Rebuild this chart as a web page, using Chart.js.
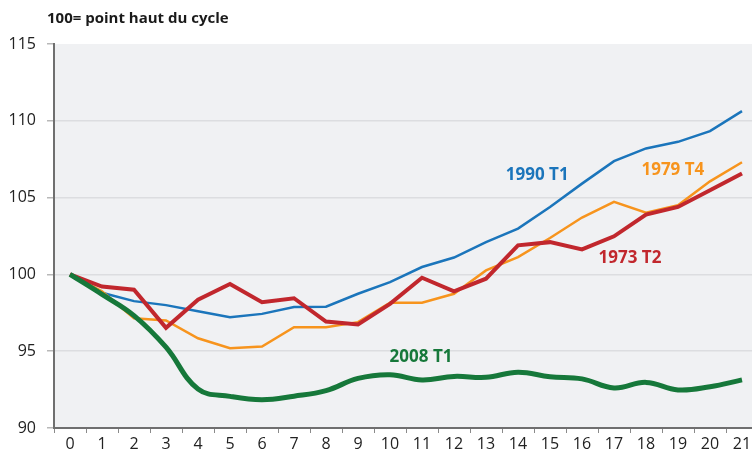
<!DOCTYPE html>
<html>
<head>
<meta charset="utf-8">
<script src="https://cdn.jsdelivr.net/npm/chart.js@4/dist/chart.umd.min.js"></script>
<style>
html,body{margin:0;padding:0;background:#fff;overflow:hidden;}
#wrap{width:758px;height:456px;}
</style>
</head>
<body>
<div id="wrap"><canvas id="c" width="758" height="456"></canvas></div>
<script>
const quarters = ['0','1','2','3','4','5','6','7','8','9','10','11','12','13','14','15','16','17','18','19','20','21'];
const s1990T1 = [100, 98.8, 98.26, 98.0, 97.6, 97.21, 97.43, 97.87, 97.9, 98.74, 99.5, 100.48, 101.1, 102.1, 102.98, 104.39, 105.91, 107.37, 108.2, 108.63, 109.33, 110.63];
const s1979T4 = [100, 98.9, 97.15, 97.0, 95.84, 95.19, 95.3, 96.56, 96.56, 96.89, 98.15, 98.15, 98.74, 100.26, 101.13, 102.37, 103.7, 104.72, 104.02, 104.5, 106.06, 107.3];
const s1973T2 = [100, 99.21, 99.0, 96.52, 98.35, 99.37, 98.19, 98.45, 96.93, 96.74, 98.08, 99.78, 98.89, 99.72, 101.89, 102.1, 101.63, 102.48, 103.9, 104.39, 105.48, 106.57];
const s2008T1 = [100, 98.7, 97.32, 95.26, 92.54, 92.06, 91.84, 92.07, 92.43, 93.23, 93.47, 93.13, 93.36, 93.3, 93.63, 93.34, 93.2, 92.61, 92.97, 92.48, 92.69, 93.13];
const yTicks = [90, 95, 100, 105, 110, 115];
const titleText = '100= point haut du cycle';

const seriesLabels = [
  {text:'2008 T1', x:10.97, y:94.6, color:'#16783a'},
  {text:'1973 T2', x:17.5, y:101.05, color:'#c1272d'},
  {text:'1979 T4', x:18.84, y:106.8, color:'#f7941d'},
  {text:'1990 T1', x:14.6, y:106.45, color:'#1b75bb'}
];

const FONT = "'Open Sans', 'DejaVu Sans', sans-serif";

const bgPlugin = {
  id: 'bg',
  beforeDraw(chart) {
    const {ctx, chartArea: a} = chart;
    ctx.save();
    ctx.fillStyle = '#f0f1f3';
    ctx.fillRect(a.left, a.top, a.right - a.left, a.bottom - a.top);
    ctx.restore();
  },
  afterDraw(chart) {
    const {ctx} = chart;
    ctx.save();
    ctx.font = "bold 15px " + FONT;
    ctx.fillStyle = '#1a1a1a';
    ctx.textBaseline = 'alphabetic';
    ctx.textAlign = 'left';
    ctx.fillText(titleText, 47, 23);
    const xs = chart.scales.x, ys = chart.scales.y;
    ctx.font = "bold 17px " + FONT;
    ctx.textAlign = 'center';
    ctx.textBaseline = 'middle';
    seriesLabels.forEach(l => {
      ctx.fillStyle = l.color;
      ctx.fillText(l.text, xs.getPixelForValue(l.x), ys.getPixelForValue(l.y));
    });
    ctx.restore();
  }
};

new Chart(document.getElementById('c'), {
  type: 'line',
  data: {
    labels: quarters,
    datasets: [
      {label:'2008 T1', data:s2008T1, borderColor:'#16783a', borderWidth:5, tension:0.4, pointRadius:0},
      {label:'1973 T2', data:s1973T2, borderColor:'#c1272d', borderWidth:4, tension:0, pointRadius:0},
      {label:'1979 T4', data:s1979T4, borderColor:'#f7941d', borderWidth:2.5, tension:0, pointRadius:0},
      {label:'1990 T1', data:s1990T1, borderColor:'#1b75bb', borderWidth:2.5, tension:0, pointRadius:0}
    ]
  },
  options: {
    responsive: false,
    devicePixelRatio: 1,
    animation: false,
    layout: {padding: {top: 44, right: 0, left: 0, bottom: 0}},
    plugins: {legend: {display: false}, tooltip: {enabled: false}},
    scales: {
      x: {
        type: 'category',
        offset: true,
        grid: {offset: true, drawOnChartArea: false, drawTicks: true, tickLength: 5, color: '#8a8a8a', lineWidth: 1},
        border: {display: true, color: '#6f6f6f', width: 2},
        ticks: {color: '#222', font: {family: FONT, size: 16}, padding: 2, maxRotation: 0, autoSkip: false},
        afterFit(s) { s.height = 28; }
      },
      y: {
        min: 90, max: 115,
        afterBuildTicks(s) { s.ticks = yTicks.map(v => ({value: v})); },
        grid: {
          color: ctx => (ctx.tick && (ctx.tick.value === 115 || ctx.tick.value === 90)) ? 'rgba(0,0,0,0)' : '#dcdde0',
          lineWidth: 1.5, tickLength: 7, drawTicks: true, tickColor: '#b8b8b8'
        },
        border: {display: true, color: '#6f6f6f', width: 2},
        ticks: {color: '#222', font: {family: FONT, size: 16}, padding: 11},
        afterFit(s) { s.width = 54; }
      }
    }
  },
  plugins: [bgPlugin]
});
</script>
</body>
</html>
